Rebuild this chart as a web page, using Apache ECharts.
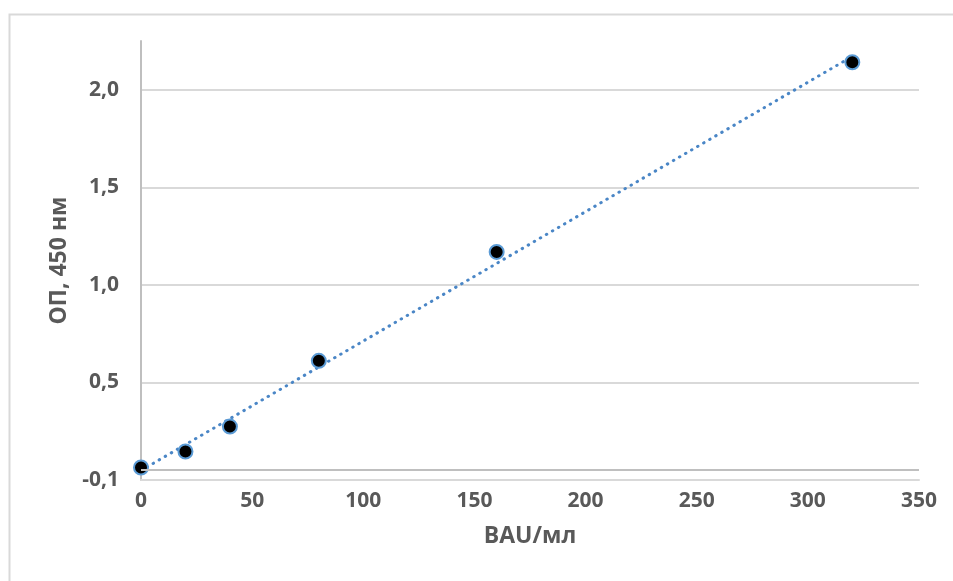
<!DOCTYPE html>
<html>
<head>
<meta charset="utf-8">
<script src="https://cdn.jsdelivr.net/npm/echarts@6/dist/echarts.min.js"></script>
<style>
html,body{margin:0;padding:0;background:#fff;}
#chart{width:953px;height:581px;}
</style>
</head>
<body>
<div id="chart"></div>
<script>
// Data
var xValues = [0, 20, 40, 80, 160, 320];
var yValues = [0.014, 0.096, 0.224, 0.561, 1.119, 2.091];
var yTickValues = [-0.05, 0.45, 0.95, 1.45, 1.95];
var yTickLabels = ['-0,1', '0,5', '1,0', '1,5', '2,0'];
var xTitle = 'BAU/мл';
var yTitle = 'ОП, 450 нм';

// Linear trendline (least squares) from the data
var n = xValues.length, mx = 0, my = 0;
for (var i = 0; i < n; i++) { mx += xValues[i]; my += yValues[i]; }
mx /= n; my /= n;
var sxx = 0, sxy = 0;
for (var i = 0; i < n; i++) { sxx += (xValues[i]-mx)*(xValues[i]-mx); sxy += (xValues[i]-mx)*(yValues[i]-my); }
var slope = sxy / sxx, intercept = my - slope * mx;
var xMin = xValues[0], xMax = xValues[n-1];
var trend = [[xMin, intercept + slope * xMin], [xMax, intercept + slope * xMax]];

var FONT = '"Open Sans", sans-serif';
var TXT = '#595959';
var chart = echarts.init(document.getElementById('chart'), null, {renderer: 'canvas'});
chart.setOption({
  animation: false,
  backgroundColor: '#fff',
  graphic: [{
    type: 'rect', left: 7, top: 12, z: -10,
    shape: {width: 980, height: 600},
    style: {fill: 'none', stroke: '#d9d9d9', lineWidth: 2}
  }],
  grid: {left: 141, right: 34, top: 41, bottom: 101, containLabel: false},
  xAxis: {
    type: 'value', min: 0, max: 350, interval: 50,
    axisLine: {onZero: false, lineStyle: {color: '#d9d9d9', width: 2}},
    axisTick: {show: false},
    splitLine: {show: false},
    axisLabel: {color: TXT, fontFamily: FONT, fontWeight: 'bold', fontSize: 21, margin: 11},
    name: xTitle, nameLocation: 'middle', nameGap: 45,
    nameTextStyle: {color: TXT, fontFamily: FONT, fontWeight: 'bold', fontSize: 23}
  },
  yAxis: {
    type: 'value', min: -0.05, max: 2.2,
    axisLine: {show: true, lineStyle: {color: '#bfbfbf', width: 2}},
    axisTick: {show: false, customValues: yTickValues},
    splitLine: {show: true, lineStyle: {color: '#d9d9d9', width: 2}},
    axisLabel: {
      customValues: yTickValues,
      color: TXT, fontFamily: FONT, fontWeight: 'bold', fontSize: 21, margin: 22,
      formatter: function (v) {
        for (var k = 0; k < yTickValues.length; k++) if (Math.abs(yTickValues[k]-v) < 1e-6) return yTickLabels[k];
        return '';
      }
    },
    name: yTitle, nameLocation: 'middle', nameGap: 67, nameRotate: 90,
    nameTextStyle: {color: TXT, fontFamily: FONT, fontWeight: 'bold', fontSize: 23}
  },
  series: [{
    type: 'line', data: trend, showSymbol: false, symbol: 'none',
    lineStyle: {color: '#4a86c6', width: 3, type: [0.5, 6.5], cap: 'round'},
    markLine: {
      silent: true, symbol: 'none', label: {show: false},
      lineStyle: {color: '#bfbfbf', width: 2, type: 'solid'},
      data: [{yAxis: 0}]
    },
    z: 2
  }, {
    type: 'scatter', data: xValues.map(function (x, i) { return [x, yValues[i]]; }),
    symbol: 'circle', symbolSize: 14, z: 4,
    itemStyle: {color: '#000', borderColor: '#5b9bd5', borderWidth: 2, opacity: 1}
  }]
});
</script>
</body>
</html>
